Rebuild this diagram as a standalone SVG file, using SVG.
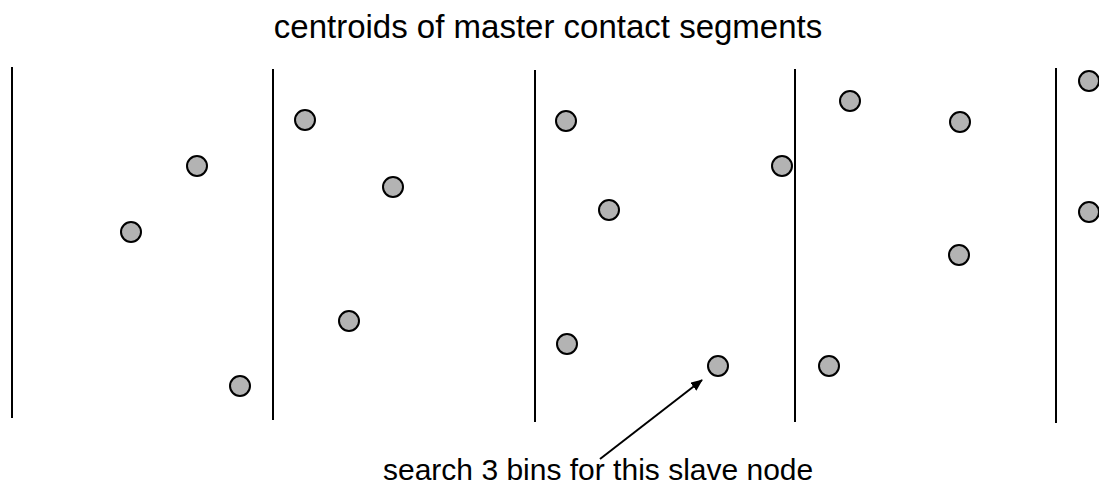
<svg xmlns="http://www.w3.org/2000/svg" width="1099" height="499" viewBox="0 0 1099 499">
<style>
.bin{stroke:#000;stroke-width:2;fill:none}
.pt{fill:#b3b3b3;stroke:#000;stroke-width:2}
.lbl{font-family:"Liberation Sans",Arial,sans-serif;font-size:30px;fill:#000}
</style>
<defs>
<marker id="ah" markerWidth="12" markerHeight="10" refX="11" refY="5" orient="auto" markerUnits="userSpaceOnUse">
<path d="M0,0 L12,5 L0,10 Z" fill="#000"/>
</marker>
</defs>
<rect width="1099" height="499" fill="#fff"/>
<g id="bins">
<line class="bin" x1="12" y1="67" x2="12" y2="418"/>
<line class="bin" x1="273" y1="69" x2="273" y2="420"/>
<line class="bin" x1="535" y1="70" x2="535" y2="422"/>
<line class="bin" x1="795" y1="69" x2="795" y2="422"/>
<line class="bin" x1="1056" y1="68" x2="1056" y2="423"/>
</g>
<g id="centroids">
<circle class="pt" cx="197" cy="166" r="10"/>
<circle class="pt" cx="131" cy="232" r="10"/>
<circle class="pt" cx="240" cy="386" r="10"/>
<circle class="pt" cx="305" cy="120" r="10"/>
<circle class="pt" cx="393" cy="187" r="10"/>
<circle class="pt" cx="349" cy="321" r="10"/>
<circle class="pt" cx="566" cy="121" r="10"/>
<circle class="pt" cx="609" cy="210" r="10"/>
<circle class="pt" cx="782" cy="166" r="10"/>
<circle class="pt" cx="567" cy="344" r="10"/>
<circle class="pt" cx="850" cy="101" r="10"/>
<circle class="pt" cx="960" cy="122" r="10"/>
<circle class="pt" cx="959" cy="255" r="10"/>
<circle class="pt" cx="829" cy="366" r="10"/>
<circle class="pt" cx="1089" cy="81" r="10"/>
<circle class="pt" cx="1089" cy="212" r="10"/>
</g>
<g id="slave-node">
<circle class="pt" cx="718" cy="366" r="10"/>
</g>
<g id="connectors">
<line x1="600" y1="459" x2="702" y2="380" stroke="#000" stroke-width="2" marker-end="url(#ah)"/>
</g>
<g id="labels">
<text class="lbl" x="548" y="38" text-anchor="middle" style="font-size:33px">centroids of master contact segments</text>
<text class="lbl" x="383" y="480">search 3 bins for this slave node</text>
</g>
</svg>
